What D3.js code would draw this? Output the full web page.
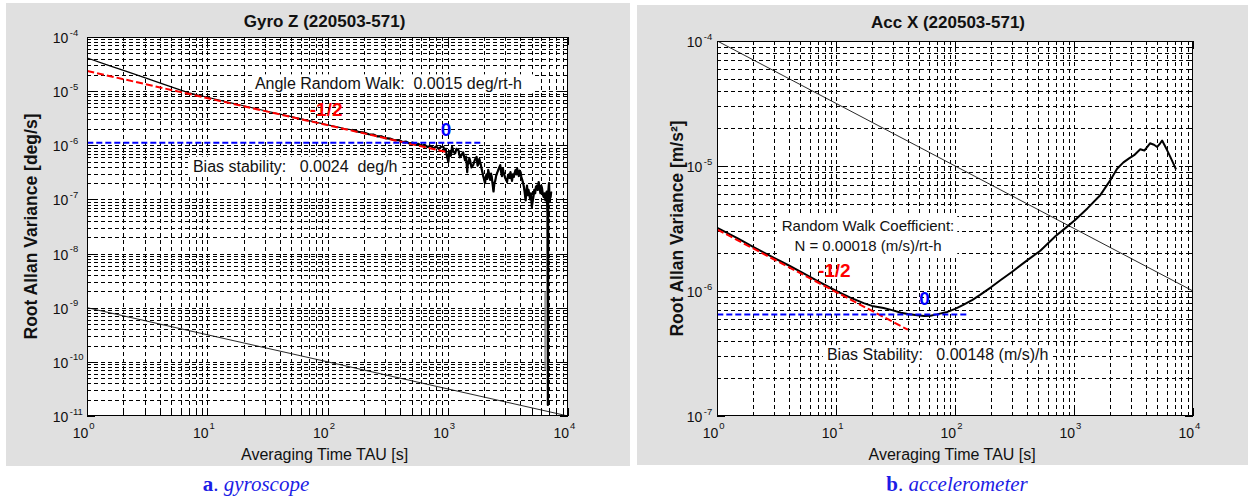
<!DOCTYPE html>
<html>
<head>
<meta charset="utf-8">
<script src="https://cdn.jsdelivr.net/npm/d3@7"></script>
<style>
  body { margin: 0; background: #fff; }
  svg { display: block; font-family: "Liberation Sans", Arial, sans-serif; }
  .note { white-space: pre; }
</style>
</head>
<body>
<svg id="viz" width="1248" height="497"></svg>
<script>
// decades of the log axes (tick labels are 10^d)
const xDecades = [0, 1, 2, 3, 4];
const gyroDecades = [-4, -5, -6, -7, -8, -9, -10, -11];
const accDecades = [-4, -5, -6, -7];

// gyro Z: [tau s, root allan variance deg/s]
const gyroData = [
  [1, 4.1e-5], [1.5, 3.0e-5], [2, 2.42e-5], [3, 1.78e-5], [4, 1.42e-5], [5, 1.2e-5],
  [7, 9.3e-6], [10, 7.7e-6], [15, 6.2e-6], [20, 5.38e-6], [30, 4.35e-6], [50, 3.38e-6],
  [70, 2.85e-6], [100, 2.38e-6], [120, 2.18e-6], [140, 2.02e-6], [160, 1.93e-6],
  [180, 1.78e-6], [200, 1.72e-6], [220, 1.6e-6], [240, 1.58e-6], [260, 1.46e-6],
  [280, 1.47e-6], [300, 1.36e-6], [330, 1.33e-6], [360, 1.24e-6], [390, 1.25e-6],
  [420, 1.15e-6], [450, 1.17e-6], [480, 1.08e-6], [510, 1.12e-6], [540, 1.02e-6],
  [570, 1.06e-6], [600, 9.7e-7], [640, 1.02e-6], [680, 9.3e-7], [720, 9.8e-7],
  [760, 8.8e-7], [800, 9.5e-7], [840, 8.6e-7], [880, 9.4e-7], [918, 9.4e-7],
  [940, 7.9e-7], [960, 8.6e-7], [985, 6.2e-7], [1010, 4.95e-7], [1025, 7.1e-7],
  [1040, 7.8e-7], [1060, 6.4e-7], [1085, 9.4e-7], [1110, 7.6e-7], [1150, 7.1e-7],
  [1180, 8.6e-7], [1225, 8.1e-7], [1260, 6.0e-7], [1300, 6.6e-7], [1340, 7.4e-7],
  [1390, 5.3e-7], [1420, 6.2e-7], [1450, 3.2e-7], [1470, 5.0e-7], [1490, 4.6e-7],
  [1510, 5.8e-7], [1530, 5.3e-7], [1575, 3.9e-7], [1625, 4.3e-7], [1680, 5.4e-7],
  [1735, 6.1e-7], [1770, 4.2e-7], [1800, 4.6e-7], [1830, 5.6e-7], [1850, 5.0e-7],
  [1880, 4.4e-7], [1910, 3.7e-7], [1970, 2.7e-7], [2040, 2.0e-7], [2070, 2.6e-7],
  [2100, 2.9e-7], [2130, 2.4e-7], [2170, 3.5e-7], [2210, 2.8e-7], [2250, 2.3e-7],
  [2290, 3.0e-7], [2320, 2.6e-7], [2360, 1.9e-7], [2400, 1.4e-7], [2440, 2.0e-7],
  [2480, 2.2e-7], [2520, 2.7e-7], [2560, 3.0e-7], [2640, 3.6e-7], [2730, 4.3e-7],
  [2770, 3.3e-7], [2820, 2.7e-7], [2870, 3.7e-7], [2910, 3.2e-7], [3000, 2.5e-7],
  [3110, 2.1e-7], [3160, 2.7e-7], [3220, 2.9e-7], [3270, 2.5e-7], [3320, 3.2e-7],
  [3370, 2.6e-7], [3420, 2.2e-7], [3480, 2.9e-7], [3540, 2.6e-7], [3600, 3.1e-7],
  [3660, 3.5e-7], [3720, 2.9e-7], [3780, 3.7e-7], [3840, 3.0e-7], [3900, 2.7e-7],
  [3960, 3.4e-7], [4030, 3.2e-7], [4090, 2.6e-7], [4160, 2.3e-7], [4230, 2.0e-7],
  [4300, 1.7e-7], [4370, 1.3e-7], [4440, 9.6e-8], [4500, 1.4e-7], [4560, 1.8e-7],
  [4620, 1.2e-7], [4690, 1.5e-7], [4770, 1.2e-7], [4850, 1.0e-7], [4920, 1.3e-7],
  [5000, 7.3e-8], [5070, 9e-8], [5150, 1.1e-7], [5240, 1.5e-7], [5330, 1.3e-7],
  [5410, 1.7e-7], [5500, 1.8e-7], [5600, 1.5e-7], [5700, 2.1e-7], [5800, 1.6e-7],
  [5900, 1.3e-7], [5990, 1.8e-7], [6080, 1.6e-7], [6190, 1.2e-7], [6300, 1.1e-7],
  [6400, 1.3e-7], [6490, 9.6e-8], [6570, 1.2e-7], [6650, 1.4e-7], [6700, 9e-8],
  [6750, 5.5e-8], [6800, 1.6e-11], [6850, 1.3e-7], [6900, 1.7e-7], [6950, 2.0e-7],
  [7000, 1.3e-7], [7050, 9e-8], [7100, 1.2e-7], [7160, 1.1e-7], [7250, 1.4e-7]
];
const gyroGhost = [[6450, 2e-9], [6450, 7e-11]];
const gyroRef = [[1, 1e-9], [1e4, 1e-11]];
const gyroFit = [[1, 2.35e-5], [1000, 7.43e-7]];
const gyroBias = [[1, 1.11e-6], [1870, 1.11e-6]];

// acc X: [tau s, root allan variance m/s^2]
const accData = [
  [1, 3.2e-6], [1.5, 2.62e-6], [2, 2.25e-6], [3, 1.84e-6], [4, 1.6e-6], [5, 1.43e-6],
  [7, 1.2e-6], [10, 1.0e-6], [13, 8.9e-7], [17, 8.0e-7], [20, 7.6e-7], [25, 7.3e-7],
  [30, 7.0e-7], [35, 6.7e-7], [40, 6.55e-7], [48, 6.4e-7], [55, 6.3e-7], [62, 6.35e-7],
  [70, 6.5e-7], [86, 6.8e-7], [100, 7.2e-7], [116, 7.7e-7], [140, 8.5e-7], [162, 9.3e-7],
  [200, 1.07e-6], [240, 1.22e-6], [300, 1.42e-6], [400, 1.75e-6], [520, 2.1e-6],
  [700, 2.75e-6], [850, 3.2e-6], [1020, 3.7e-6], [1300, 4.6e-6], [1650, 5.8e-6],
  [2000, 7.6e-6], [2300, 9.5e-6], [2600, 1.07e-5], [2900, 1.15e-5], [3200, 1.22e-5],
  [3600, 1.36e-5], [3900, 1.33e-5], [4350, 1.52e-5], [4700, 1.48e-5], [5000, 1.42e-5],
  [5300, 1.52e-5], [5500, 1.6e-5], [5800, 1.45e-5], [6050, 1.34e-5], [6400, 1.2e-5],
  [6800, 1.06e-5], [7200, 9.4e-6]
];
const accRef = [[1, 1e-4], [1e4, 1e-6]];
const accFit = [[1, 3.1e-6], [40, 4.9e-7]];
const accBias = [[1, 6.5e-7], [128, 6.5e-7]];

const svg = d3.select("#viz");
const ink = "#111";

const panels = [
  {
    bg: [6, 3, 624, 463], box: [87.3, 568, 37, 416], decades: gyroDecades, labelEnd: 19,
    title: "Gyro Z (220503-571)", titleX: 324.5, titleY: 27,
    yLabel: "Root Allan Variance [deg/s]", yLabelX: 37,
    lines: [
      { d: gyroRef, color: ink, w: 0.9 },
      { d: gyroGhost, color: "#888", w: 1.5 },
      { d: gyroData, color: "#000", w: 1.2 },
      // the noisy tail looks heavier in the original, so go over it again
      { d: gyroData.filter((d) => d[0] >= 150), color: "#000", w: 2.2 },
      { d: gyroFit, color: "red", w: 2, dash: "7,3" },
      { d: gyroBias, color: "#0000ff", w: 2, dash: "6,3" }
    ],
    notes: [
      { t: "Angle Random Walk:  0.0015 deg/rt-h", at: [24.8, 1.08e-5], boxPad: [2, 12] },
      { t: "-1/2", at: [71, 3.48e-6], color: "red", bold: true, size: 19 },
      { t: "0", at: [874, 1.48e-6], color: "#0000ff", bold: true, size: 19 },
      { t: "Bias stability:   0.0024  deg/h", at: [7.57, 3.25e-7], boxPad: [5, 5] }
    ],
    caption: ["a", "gyroscope"], captionX: 256
  },
  {
    bg: [637, 5, 611, 460], box: [717.3, 1193, 41, 416], decades: accDecades, labelEnd: 15,
    title: "Acc X (220503-571)", titleX: 948, titleY: 28,
    yLabel: "Root Allan Variance [m/s\u00b2]", yLabelX: 683,
    lines: [
      { d: accRef, color: ink, w: 0.9 },
      { d: accData, color: "#000", w: 2 },
      { d: accFit, color: "red", w: 2, dash: "7,3" },
      { d: accBias, color: "#0000ff", w: 2, dash: "6,3" }
    ],
    notes: [
      { t: "Random Walk Coefficient:", at: [18.5, 3.02e-6], anchor: "middle", size: 15, boxPad: [3, 3], box2: true },
      { t: "N = 0.00018 (m/s)/rt-h", at: [18.5, 2.09e-6], anchor: "middle", size: 15 },
      { t: "-1/2", at: [7.02, 1.29e-6], color: "red", bold: true, size: 19 },
      { t: "0", at: [49.8, 7.73e-7], color: "#0000ff", bold: true, size: 19 },
      { t: "Bias Stability:   0.00148 (m/s)/h", at: [8.35, 2.8e-7], boxPad: [4, 4] }
    ],
    caption: ["b", "accelerometer"], captionX: 957
  }
];

function gridValues(lo, hi) {
  const v = [];
  for (let k = lo; k < hi; k++) for (let m = 1; m <= 9; m++) v.push(m * Math.pow(10, k));
  v.push(Math.pow(10, hi));
  return v;
}

function drawPanel(p, idx) {
  const [x0, x1, y0, y1] = p.box;
  const g = svg.append("g");
  g.append("rect")
    .attr("x", p.bg[0]).attr("y", p.bg[1])
    .attr("width", p.bg[2]).attr("height", p.bg[3])
    .attr("fill", "#e0e0e0");

  const x = d3.scaleLog().domain([1, 1e4]).range([x0, x1]);
  const dMin = d3.min(p.decades), dMax = d3.max(p.decades);
  const y = d3.scaleLog().domain([Math.pow(10, dMin), Math.pow(10, dMax)]).range([y1, y0]);

  g.append("rect")
    .attr("x", x0).attr("y", y0)
    .attr("width", x1 - x0).attr("height", y1 - y0)
    .attr("fill", "#fff");

  const xs = gridValues(0, 4);
  const ys = gridValues(dMin, dMax);

  // dashed grid on every major and minor tick
  g.append("g").selectAll("line").data(xs.slice(1, -1)).join("line")
    .attr("x1", (d) => Math.round(x(d)) + 0.5).attr("x2", (d) => Math.round(x(d)) + 0.5)
    .attr("y1", y0).attr("y2", y1)
    .attr("stroke", "#000").attr("stroke-width", 1)
    .attr("stroke-dasharray", "4,3").attr("shape-rendering", "crispEdges");
  g.append("g").selectAll("line").data(ys.slice(1, -1)).join("line")
    .attr("y1", (d) => Math.round(y(d)) + 0.5).attr("y2", (d) => Math.round(y(d)) + 0.5)
    .attr("x1", x0).attr("x2", x1)
    .attr("stroke", "#000").attr("stroke-width", 1)
    .attr("stroke-dasharray", "4,3").attr("shape-rendering", "crispEdges");

  // inward ticks on all four sides
  const isMajor = (d) => Math.abs(Math.log10(d) - Math.round(Math.log10(d))) < 1e-9;
  const ticks = g.append("g").attr("stroke", "#000").attr("shape-rendering", "crispEdges");
  xs.forEach((d) => {
    const len = isMajor(d) ? 8 : 4;
    const px = Math.round(x(d)) + 0.5;
    ticks.append("line").attr("x1", px).attr("x2", px).attr("y1", y1).attr("y2", y1 - len);
    ticks.append("line").attr("x1", px).attr("x2", px).attr("y1", y0).attr("y2", y0 + len);
  });
  ys.forEach((d) => {
    const len = isMajor(d) ? 8 : 4;
    const py = Math.round(y(d)) + 0.5;
    ticks.append("line").attr("y1", py).attr("y2", py).attr("x1", x0).attr("x2", x0 + len);
    ticks.append("line").attr("y1", py).attr("y2", py).attr("x1", x1).attr("x2", x1 - len);
  });

  const clipId = "clip" + idx;
  g.append("clipPath").attr("id", clipId)
    .append("rect").attr("x", x0).attr("y", y0).attr("width", x1 - x0).attr("height", y1 - y0);

  const line = d3.line().x((d) => x(d[0])).y((d) => y(d[1]));
  const plot = g.append("g").attr("clip-path", "url(#" + clipId + ")");

  plot.selectAll("path").data(p.lines).join("path")
    .attr("d", (d) => line(d.d))
    .attr("fill", "none")
    .attr("stroke", (d) => d.color)
    .attr("stroke-width", (d) => d.w)
    .attr("stroke-dasharray", (d) => d.dash || null)
    .attr("stroke-linejoin", "round");

  // white boxes behind annotation texts, then texts on top
  const boxLayer = g.append("g");
  const notes = g.append("g");
  p.notes.forEach((n) => {
    n.node = notes.append("text")
      .attr("class", "note")
      .attr("x", x(n.at[0])).attr("y", y(n.at[1]))
      .attr("text-anchor", n.anchor || "start")
      .attr("font-size", n.size || 16)
      .attr("font-weight", n.bold ? "bold" : "normal")
      .attr("fill", n.color || ink)
      .text(n.t);
  });
  p.notes.filter((n) => n.boxPad).forEach((n) => {
    let b = n.node.node().getBBox();
    if (n.box2) {
      const b2 = p.notes[p.notes.indexOf(n) + 1].node.node().getBBox();
      const left = Math.min(b.x, b2.x), right = Math.max(b.x + b.width, b2.x + b2.width);
      b = { x: left, y: b.y, width: right - left, height: b2.y + b2.height - b.y };
    }
    boxLayer.append("rect")
      .attr("x", b.x - n.boxPad[0]).attr("y", b.y - 1)
      .attr("width", b.width + n.boxPad[0] + n.boxPad[1]).attr("height", b.height + 2)
      .attr("fill", "#fff");
  });

  g.append("rect")
    .attr("x", x0 + 0.5).attr("y", y0 + 0.5)
    .attr("width", x1 - x0 - 1).attr("height", y1 - y0 - 1)
    .attr("fill", "none").attr("stroke", "#000").attr("stroke-width", 1)
    .attr("shape-rendering", "crispEdges");

  // tick labels, 10 with a raised exponent
  p.decades.forEach((d) => {
    const py = y(Math.pow(10, d));
    g.append("text").attr("x", x0 - p.labelEnd).attr("y", py + 6)
      .attr("text-anchor", "end").attr("font-size", 14).attr("fill", ink).text("10");
    g.append("text").attr("x", x0 - p.labelEnd + 1.5).attr("y", py - 1.5)
      .attr("font-size", 9.5).attr("fill", ink).text(String(d));
  });
  xDecades.forEach((d) => {
    const px = x(Math.pow(10, d));
    g.append("text").attr("x", px + 1).attr("y", y1 + 22)
      .attr("text-anchor", "end").attr("font-size", 14).attr("fill", ink).text("10");
    g.append("text").attr("x", px + 2).attr("y", y1 + 13)
      .attr("font-size", 9.5).attr("fill", ink).text(String(d));
  });

  g.append("text").attr("x", p.titleX).attr("y", p.titleY)
    .attr("text-anchor", "middle").attr("font-size", 17).attr("font-weight", "bold")
    .attr("fill", ink).text(p.title);

  g.append("text").attr("x", (x0 + x1) / 2 - 3).attr("y", 460)
    .attr("text-anchor", "middle").attr("font-size", 16).attr("fill", ink)
    .text("Averaging Time TAU [s]");

  g.append("text")
    .attr("transform", "translate(" + p.yLabelX + "," + (y0 + y1) / 2 + ") rotate(-90)")
    .attr("text-anchor", "middle").attr("font-size", 17.5).attr("font-weight", "bold")
    .attr("fill", ink).text(p.yLabel);

  const cap = svg.append("text").attr("x", p.captionX).attr("y", 491)
    .attr("text-anchor", "middle")
    .style("font-family", '"Liberation Serif", "Times New Roman", serif')
    .attr("font-size", 21).attr("fill", "#1c1ce6");
  cap.append("tspan").attr("font-weight", "bold").text(p.caption[0]);
  cap.append("tspan").text(". ");
  cap.append("tspan").attr("font-style", "italic").text(p.caption[1]);
}

panels.forEach(drawPanel);
</script>
</body>
</html>
